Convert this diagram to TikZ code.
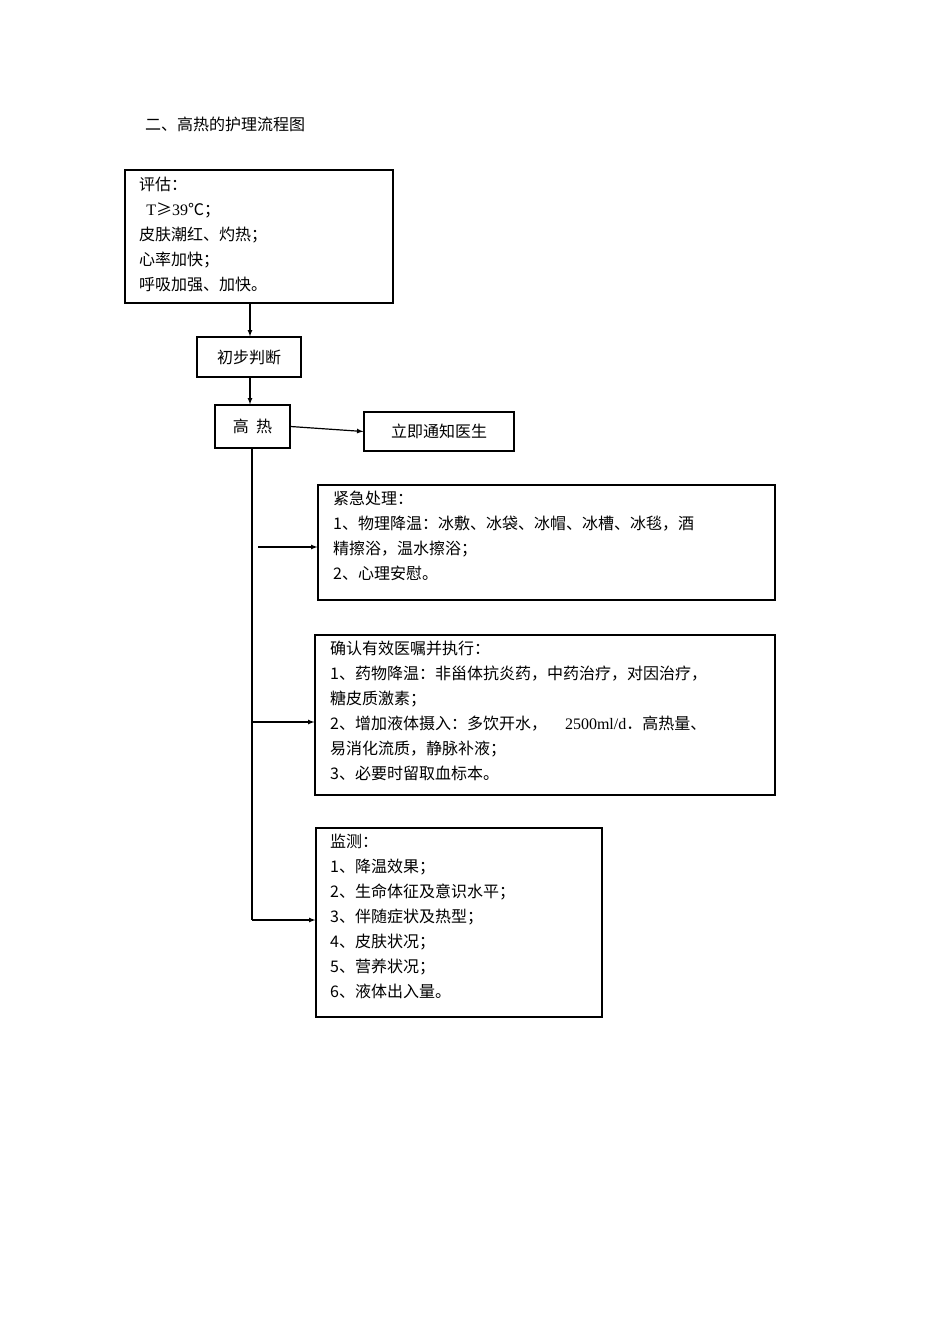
\documentclass[tikz,border=0pt]{standalone}
\usepackage{fontspec}
\setmainfont{Noto Sans CJK SC}
\newfontfamily\latin{Liberation Serif}
\begin{document}
\begin{tikzpicture}[x=1pt,y=-1pt,
  box/.style={draw,line width=1.2pt,inner sep=0pt},
  txt/.style={anchor=north west,inner sep=0pt,align=left,font=\fontsize{16}{25}\selectfont},
  arr/.style={-latex,line width=1.2pt},
  ln/.style={line width=1.2pt}]
\useasboundingbox[fill=white] (0,0) rectangle (950,1344);
\node[txt] (title) at (145,117) {二、高热的护理流程图};
% boxes
\node[box,minimum width=268pt,minimum height=133pt] (a) at (259,236.5) {};
\node[txt] (at) at (139,177) {评估：\\\ \ {\latin T}≥{\latin 39}℃；\\皮肤潮红、灼热；\\心率加快；\\呼吸加强、加快。};
\node[box,minimum width=104pt,minimum height=40pt] (b) at (249,357) {};
\node[txt,anchor=center] (bt) at (b) {初步判断};
\node[box,minimum width=75pt,minimum height=43pt] (c) at (252.5,426.5) {};
\node[txt,anchor=center] (ct) at (c) {高\ \ 热};
\node[box,minimum width=150pt,minimum height=39pt] (d) at (439,431.5) {};
\node[txt,anchor=center] (dt) at (d) {立即通知医生};
\node[box,minimum width=457pt,minimum height=115pt] (e) at (546.5,542.5) {};
\node[txt] (et) at (333,491) {紧急处理：\\1、物理降温：冰敷、冰袋、冰帽、冰槽、冰毯，酒\\精擦浴，温水擦浴；\\2、心理安慰。};
\node[box,minimum width=460pt,minimum height=160pt] (f) at (545,715) {};
\node[txt] (ft) at (330,641) {确认有效医嘱并执行：\\1、药物降温：非甾体抗炎药，中药治疗，对因治疗，\\糖皮质激素；\\2、增加液体摄入：多饮开水，\ \ \ \ \ {\latin 2500ml/d}．高热量、\\易消化流质，静脉补液；\\3、必要时留取血标本。};
\node[box,minimum width=286pt,minimum height=189pt] (g) at (459,922.5) {};
\node[txt] (gt) at (330,834) {监测：\\1、降温效果；\\2、生命体征及意识水平；\\3、伴随症状及热型；\\4、皮肤状况；\\5、营养状况；\\6、液体出入量。};
% connectors
\draw[arr] (a.south -| 250,0) -- (b.north -| 250,0);
\draw[arr] (b.south -| 250,0) -- (c.north -| 250,0);
\draw[arr] (c.east) -- (d.west);
\coordinate (v0) at (252,448);
\coordinate (v1) at (252,920);
\draw[ln] (v0) -- (v1);
\coordinate (h1) at (258,547);
\draw[arr] (h1) -- (h1 -| e.west);
\coordinate (h2) at (252,722);
\draw[arr] (h2) -- (h2 -| f.west);
\draw[arr] (v1) -- (v1 -| g.west);
\end{tikzpicture}
\end{document}
